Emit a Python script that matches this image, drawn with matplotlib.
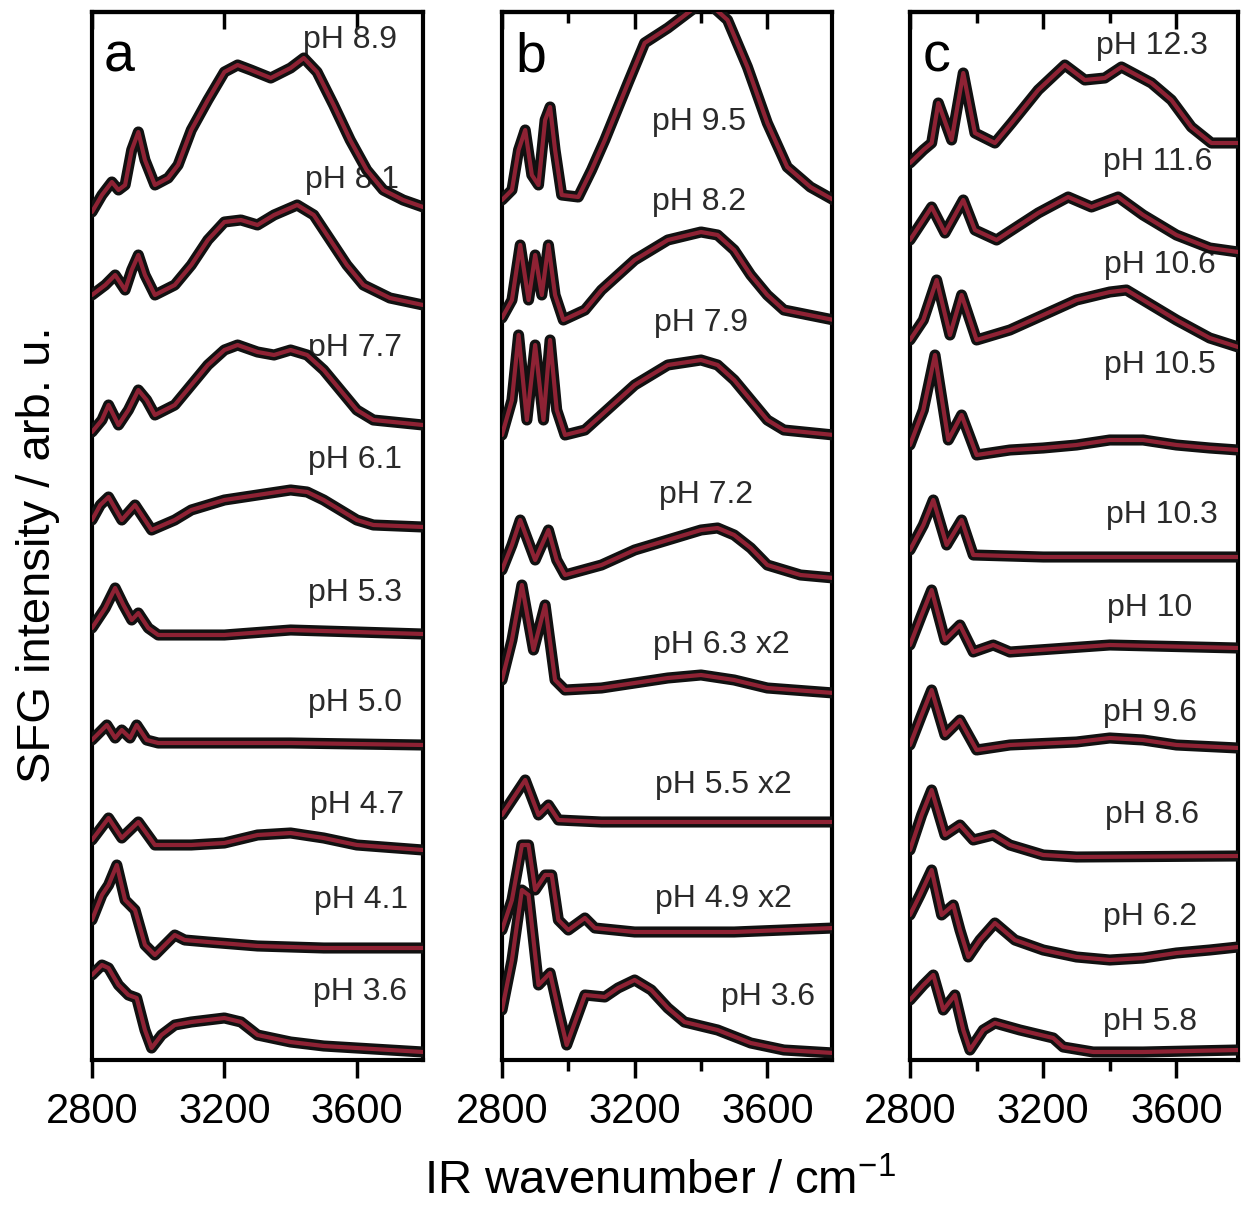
import matplotlib
matplotlib.use('Agg')
import matplotlib.pyplot as plt
from matplotlib.ticker import FixedLocator

plt.rcParams['font.family'] = ['Liberation Sans', 'DejaVu Sans']
plt.rcParams['mathtext.fontset'] = 'custom'
plt.rcParams['mathtext.rm'] = 'Liberation Sans'
plt.rcParams['mathtext.it'] = 'Liberation Sans:italic'

# ---------------- data (wavenumber / stacked intensity, arb. u.) ----------------
# Panel a
wn_a1 = [2800,2830,2860,2880,2900,2920,2940,2960,2990,3030,3060,3100,3150,3200,3240,3280,3340,3400,3440,3480,3530,3580,3630,3680,3740,3800]
h_a1 = [848,865,878,870,875,910,928,900,875,882,895,930,960,988,995,990,982,992,1002,988,955,920,890,870,860,853]
wn_a2 = [2800,2840,2870,2900,2920,2940,2960,2990,3050,3100,3150,3200,3250,3300,3350,3420,3470,3520,3570,3620,3700,3800]
h_a2 = [765,775,785,770,790,805,785,765,775,795,820,838,840,835,845,855,845,820,795,775,762,755]
wn_a3 = [2800,2830,2850,2880,2910,2940,2965,2990,3050,3100,3150,3200,3240,3300,3350,3400,3450,3500,3550,3600,3650,3800]
h_a3 = [628,640,655,635,650,670,660,645,655,675,695,710,715,708,705,710,705,690,670,650,640,635]
wn_a4 = [2800,2825,2850,2890,2930,2980,3050,3100,3200,3300,3400,3450,3500,3550,3600,3650,3800]
h_a4 = [540,555,563,540,555,530,540,550,560,565,570,568,560,550,540,535,533]
wn_a5 = [2800,2840,2870,2895,2920,2940,2970,3000,3200,3400,3600,3800]
h_a5 = [432,452,472,455,440,447,432,425,425,430,428,426]
wn_a6 = [2800,2845,2870,2890,2915,2935,2965,3000,3400,3800]
h_a6 = [320,335,322,330,322,335,320,317,317,315]
wn_a7 = [2800,2850,2890,2940,2990,3100,3200,3300,3400,3500,3600,3800]
h_a7 = [220,242,222,238,215,215,217,225,227,222,215,210]
wn_a8 = [2800,2830,2850,2875,2900,2930,2960,2990,3020,3050,3080,3150,3300,3500,3800]
h_a8 = [140,165,175,195,160,150,115,105,115,125,120,118,114,112,112]
wn_a9 = [2800,2830,2850,2880,2910,2935,2960,2980,3010,3050,3100,3150,3200,3250,3300,3400,3500,3600,3800]
h_a9 = [85,95,92,75,65,62,30,12,25,35,38,40,42,38,25,18,14,12,8]
labels_a = ['pH 8.9', 'pH 8.1', 'pH 7.7', 'pH 6.1', 'pH 5.3', 'pH 5.0', 'pH 4.7', 'pH 4.1', 'pH 3.6']
lab_x_a = [3579, 3585, 3595, 3595, 3595, 3595, 3600, 3613, 3610]
lab_y_a = [1020, 880, 712, 600, 467, 357, 255, 160, 68]

# Panel b
wn_b1 = [2800,2830,2850,2870,2890,2910,2930,2945,2960,2980,3030,3070,3110,3180,3230,3300,3380,3430,3480,3540,3600,3660,3730,3800]
h_b1 = [860,870,910,930,885,875,940,953,910,865,863,890,920,977,1017,1032,1052,1055,1040,993,937,893,873,860]
wn_b2 = [2800,2830,2855,2880,2900,2920,2940,2960,2985,3050,3100,3200,3300,3400,3450,3500,3550,3600,3650,3800]
h_b2 = [742,760,815,760,805,765,815,765,740,750,770,800,820,828,825,810,785,765,750,740]
wn_b3 = [2800,2830,2850,2875,2900,2925,2945,2965,2990,3050,3100,3200,3300,3400,3450,3500,3550,3600,3650,3800]
h_b3 = [625,660,725,640,715,640,720,650,625,630,645,675,695,700,695,680,660,640,630,625]
wn_b4 = [2800,2830,2855,2900,2940,2965,2990,3100,3200,3300,3400,3450,3500,3550,3600,3700,3800]
h_b4 = [490,515,540,500,530,500,485,495,510,520,530,532,525,512,495,485,482]
wn_b5 = [2800,2830,2860,2895,2930,2960,2990,3100,3200,3300,3400,3500,3600,3800]
h_b5 = [380,420,475,410,455,380,370,372,377,382,385,380,372,367]
wn_b6 = [2800,2840,2870,2910,2940,2970,3100,3400,3800]
h_b6 = [245,265,280,245,255,240,238,238,238]
wn_b7 = [2800,2830,2860,2880,2900,2930,2950,2970,3000,3050,3080,3200,3500,3800]
h_b7 = [130,160,215,215,170,185,185,140,130,142,132,128,128,132]
wn_b8 = [2800,2830,2860,2880,2910,2945,2970,2995,3050,3110,3150,3200,3250,3300,3350,3450,3550,3650,3800]
h_b8 = [50,100,170,165,75,87,50,15,65,63,72,80,70,52,38,30,17,10,7]
labels_b = ['pH 9.5', 'pH 8.2', 'pH 7.9', 'pH 7.2', 'pH 6.3 x2', 'pH 5.5 x2', 'pH 4.9 x2', 'pH 3.6']
lab_x_b = [3394, 3394, 3400, 3415, 3461, 3467, 3467, 3603]
lab_y_b = [938, 858, 737, 565, 415, 275, 161, 63]

# Panel c
wn_c1 = [2800,2840,2865,2885,2925,2960,2995,3055,3105,3185,3265,3325,3385,3435,3525,3585,3645,3705,3785]
h_c1 = [897,910,917,957,920,987,927,917,937,970,995,980,982,993,977,960,933,917,917]
wn_c2 = [2800,2865,2905,2960,2995,3060,3185,3275,3345,3425,3500,3600,3700,3785]
h_c2 = [820,853,827,860,830,820,847,863,853,863,845,825,812,808]
wn_c3 = [2800,2840,2880,2920,2955,3000,3100,3200,3300,3400,3450,3500,3600,3700,3785]
h_c3 = [720,740,780,725,765,720,730,745,760,768,770,760,740,722,713]
wn_c4 = [2800,2840,2875,2915,2955,3000,3100,3200,3300,3400,3500,3600,3700,3785]
h_c4 = [615,650,705,620,645,605,610,612,615,620,620,615,612,610]
wn_c5 = [2800,2840,2870,2910,2955,2990,3200,3500,3785]
h_c5 = [510,535,560,515,540,505,503,503,503]
wn_c6 = [2800,2835,2865,2905,2950,2990,3050,3100,3400,3785]
h_c6 = [415,445,470,420,435,408,415,408,415,412]
wn_c7 = [2800,2835,2865,2905,2950,3000,3100,3300,3400,3500,3600,3785]
h_c7 = [315,345,370,325,340,310,315,318,322,320,315,312]
wn_c8 = [2800,2835,2865,2905,2950,2990,3050,3100,3200,3300,3785]
h_c8 = [210,245,270,225,235,220,225,215,205,203,204]
wn_c9 = [2800,2830,2865,2895,2930,2950,2975,3010,3055,3115,3200,3300,3400,3500,3600,3700,3785]
h_c9 = [145,165,190,145,155,130,103,120,137,120,110,103,100,102,107,110,113]
wn_c10 = [2800,2840,2870,2900,2935,2960,2980,3020,3055,3130,3230,3260,3350,3500,3785]
h_c10 = [60,75,85,50,65,30,10,30,37,30,22,13,8,8,10]
labels_c = ['pH 12.3', 'pH 11.6', 'pH 10.6', 'pH 10.5', 'pH 10.3', 'pH 10', 'pH 9.6', 'pH 8.6', 'pH 6.2', 'pH 5.8']
lab_x_c = [3527, 3545, 3551, 3551, 3557, 3521, 3521, 3527, 3521, 3521]
lab_y_c = [1014, 898, 795, 695, 545, 452, 347, 245, 143, 38]

panel_letters = ['a', 'b', 'c']
xticks_major = [2800, 3200, 3600]
xticks_minor = [3000, 3400]

traces_a = [(wn_a1, h_a1), (wn_a2, h_a2), (wn_a3, h_a3), (wn_a4, h_a4), (wn_a5, h_a5),
            (wn_a6, h_a6), (wn_a7, h_a7), (wn_a8, h_a8), (wn_a9, h_a9)]
traces_b = [(wn_b1, h_b1), (wn_b2, h_b2), (wn_b3, h_b3), (wn_b4, h_b4), (wn_b5, h_b5),
            (wn_b6, h_b6), (wn_b7, h_b7), (wn_b8, h_b8)]
traces_c = [(wn_c1, h_c1), (wn_c2, h_c2), (wn_c3, h_c3), (wn_c4, h_c4), (wn_c5, h_c5),
            (wn_c6, h_c6), (wn_c7, h_c7), (wn_c8, h_c8), (wn_c9, h_c9), (wn_c10, h_c10)]

panels = [
    (traces_a, labels_a, lab_x_a, lab_y_a, (2800, 3800), False),
    (traces_b, labels_b, lab_x_b, lab_y_b, (2800, 3795), True),
    (traces_c, labels_c, lab_x_c, lab_y_c, (2800, 3785), True),
]

# ---------------- figure ----------------
fig = plt.figure(figsize=(12.49, 12.15), dpi=100)
lefts = [92/1249, 502/1249, 910/1249]
widths = [331/1249, 330/1249, 328/1249]
bottom = 1 - 1060/1215
height = (1060 - 12)/1215

for i, (traces, labels, lx, ly, xl, minor) in enumerate(panels):
    ax = fig.add_axes([lefts[i], bottom, widths[i], height])
    for wn, h in traces:
        ax.plot(wn, h, color='#111111', lw=8, solid_joinstyle='round',
                solid_capstyle='round', zorder=3)
        ax.plot(wn, h, color='#8e2234', lw=3, solid_joinstyle='round',
                solid_capstyle='round', zorder=4)
    for t, x, y in zip(labels, lx, ly):
        ax.text(x, y, t, fontsize=23, ha='center', va='center', color='#2a2a2a', zorder=2)
    ax.text(0.035 if i == 0 else 0.04, 0.943, panel_letters[i], transform=ax.transAxes,
            fontsize=40, ha='left', va='baseline', zorder=5)
    ax.set_xlim(*xl)
    ax.set_ylim(0, 1048)
    ax.set_yticks([])
    ax.xaxis.set_major_locator(FixedLocator(xticks_major))
    if minor:
        ax.xaxis.set_minor_locator(FixedLocator(xticks_minor))
    ax.tick_params(axis='x', which='major', direction='out', length=13, width=2.5,
                   labelsize=30, pad=10)
    ax.tick_params(axis='x', which='minor', direction='out', length=8, width=2.5)
    for s in ax.spines.values():
        s.set_linewidth(3)
    sec = ax.secondary_xaxis('top')
    sec.xaxis.set_major_locator(FixedLocator(xticks_major))
    if minor:
        sec.xaxis.set_minor_locator(FixedLocator(xticks_minor))
    sec.tick_params(axis='x', which='major', direction='in', length=12, width=2.5,
                    labeltop=False)
    sec.tick_params(axis='x', which='minor', direction='in', length=8, width=2.5)
    sec.spines['top'].set_linewidth(3)

fig.text(38/1249, 1 - 555/1215, 'SFG intensity / arb. u.', rotation=90,
         fontsize=34, ha='center', va='center')
fig.text(660/1249, 1 - 1182/1215, 'IR wavenumber / cm$^{-1}$',
         fontsize=34, ha='center', va='center')

fig.savefig('out.png', dpi=100, facecolor='white')
